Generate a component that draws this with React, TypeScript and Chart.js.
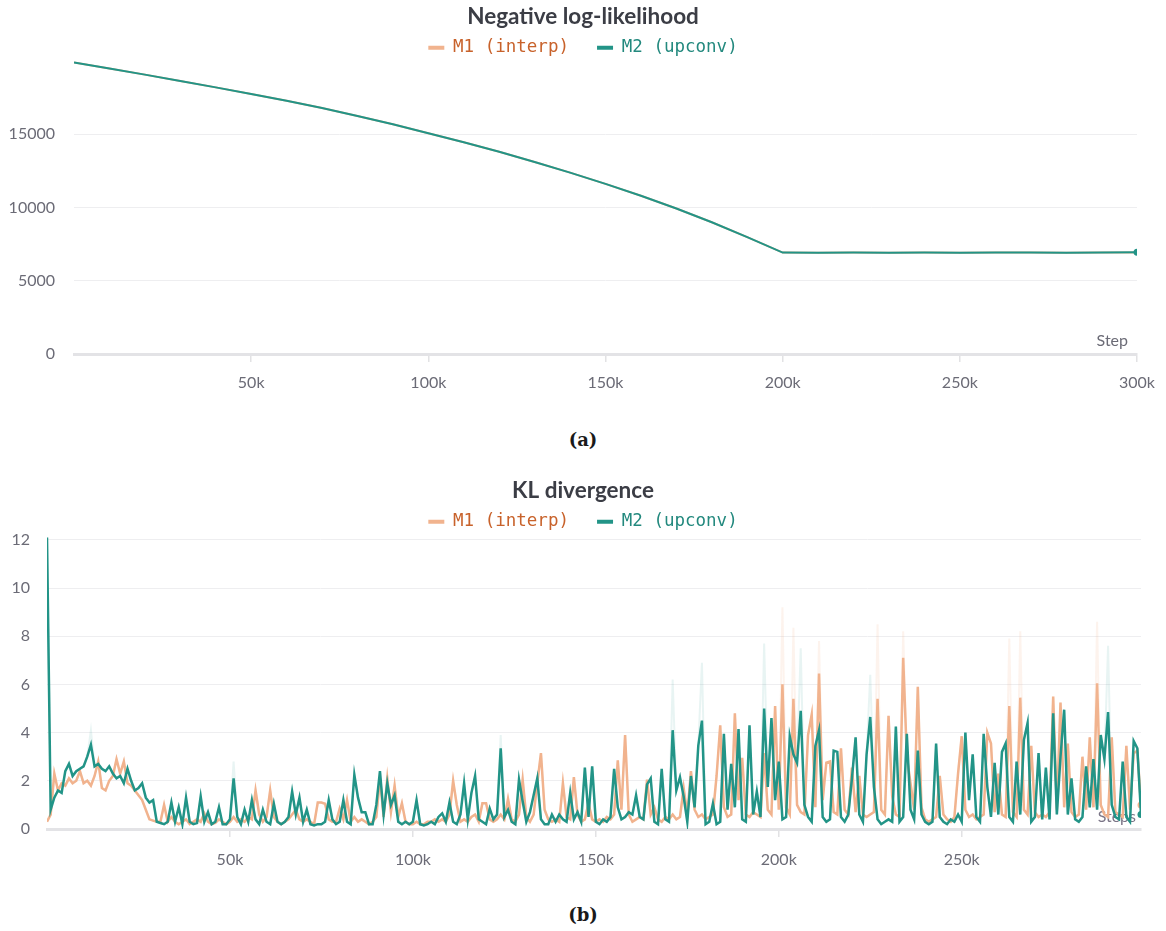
import React, { useEffect, useRef } from 'react';
import { Chart, registerables } from 'chart.js';

Chart.register(...registerables);

const GREEN = '#229487';
const ORANGE = '#f1b38e';
const GREEN_FAINT = 'rgba(34, 148, 135, 0.10)';
const ORANGE_FAINT = 'rgba(241, 179, 142, 0.16)';
const GREEN_TEXT = '#23897e';
const ORANGE_TEXT = '#c8622b';
const TICK = '#6b6b76';
const TITLE = '#3b3d45';

// ---------- Negative log-likelihood ----------
const nllSteps = [
  0, 10000, 20000, 30000, 40000, 50000, 60000, 70000, 80000, 90000,
  100000, 110000, 120000, 130000, 140000, 150000, 160000, 170000, 180000, 190000,
  200000, 210000, 220000, 230000, 240000, 250000, 260000, 270000, 280000, 290000, 300000,
];
const nllM2 = [
  19900, 19490, 19070, 18640, 18200, 17750, 17290, 16790, 16250, 15680,
  15070, 14450, 13800, 13110, 12380, 11610, 10800, 9930, 8990, 7980,
  6920, 6915, 6930, 6905, 6925, 6910, 6920, 6935, 6910, 6925, 6940,
];
const nllM1 = [
  19900, 19490, 19070, 18640, 18200, 17750, 17290, 16790, 16250, 15680,
  15070, 14450, 13800, 13110, 12380, 11610, 10800, 9930, 8990, 7980,
  6925, 6910, 6925, 6910, 6920, 6915, 6925, 6930, 6915, 6920, 6935,
];
const nllYTicks = [0, 5000, 10000, 15000];
const nllXTicks = [50000, 100000, 150000, 200000, 250000, 300000];

// ---------- KL divergence (smoothed, one value per 1k steps, 0 .. 299k) ----------
const klSteps = Array.from({ length: 300 }, (_, i) => i * 1000);
const klM2 = [
  12.1, 0.8, 1.3, 1.6, 1.5, 2.4, 2.7, 2.2, 2.4, 2.5,
  2.6, 3.0, 3.5, 2.6, 2.7, 2.5, 2.4, 2.6, 2.3, 2.1,
  2.2, 1.9, 2.5, 2.0, 1.6, 1.7, 1.9, 1.3, 1.1, 1.2,
  0.3, 0.25, 0.2, 0.3, 1.1, 0.3, 0.9, 0.2, 1.3, 0.3,
  0.2, 0.25, 1.35, 0.3, 0.7, 0.2, 0.3, 0.9, 0.2, 0.2,
  0.4, 2.1, 0.5, 0.2, 0.8, 0.3, 1.2, 0.4, 0.2, 0.8,
  0.3, 0.2, 1.05, 0.3, 0.2, 0.3, 0.5, 1.55, 0.6, 1.3,
  0.3, 0.8, 0.2, 0.15, 0.2, 0.2, 0.3, 1.2, 0.4, 0.2,
  0.3, 1.2, 0.3, 0.2, 2.25, 1.3, 0.7, 0.7, 0.2, 0.2,
  1.0, 2.4, 0.6, 1.9, 1.0, 1.4, 0.3, 0.2, 0.3, 0.2,
  0.3, 1.2, 0.2, 0.15, 0.2, 0.3, 0.2, 0.5, 0.65, 0.3,
  1.1, 0.3, 0.2, 0.6, 1.9, 0.4, 1.5, 2.2, 0.4, 0.3,
  0.2, 0.85, 0.4, 0.6, 3.35, 0.5, 0.8, 0.3, 0.2, 2.05,
  1.15, 0.3, 0.7, 1.4, 2.1, 0.4, 0.2, 0.2, 0.6, 0.3,
  0.6, 0.4, 0.3, 1.5, 0.4, 0.7, 0.3, 2.55, 0.5, 2.6,
  0.3, 0.2, 0.4, 0.3, 0.5, 2.5, 0.9, 0.4, 0.5, 0.7,
  0.6, 1.4, 0.5, 0.4, 1.85, 2.1, 0.3, 0.2, 2.5, 0.4,
  0.3, 4.1, 1.6, 2.15, 1.35, 0.3, 2.2, 0.9, 3.45, 4.5,
  0.2, 0.3, 1.05, 0.2, 0.3, 3.95, 0.8, 2.7, 0.9, 4.15,
  0.4, 0.3, 4.3, 0.6, 1.55, 0.5, 5.0, 1.75, 4.6, 1.2,
  2.8, 0.4, 0.5, 3.85, 3.1, 2.75, 4.9, 1.0, 0.5, 0.3,
  3.45, 4.1, 0.5, 0.3, 0.4, 3.25, 3.2, 0.5, 0.3, 0.6,
  2.1, 3.8, 0.6, 0.3, 3.1, 4.65, 1.75, 0.4, 0.2, 0.3,
  0.4, 0.3, 4.25, 0.3, 0.5, 3.95, 0.8, 0.4, 3.25, 0.6,
  0.3, 0.2, 0.3, 3.55, 0.5, 0.3, 0.2, 0.4, 0.3, 0.6,
  0.3, 4.0, 1.2, 3.1, 0.5, 0.3, 3.95, 1.75, 0.5, 2.75,
  0.6, 3.2, 3.55, 0.5, 0.3, 2.8, 0.6, 3.7, 4.4, 0.3,
  0.5, 3.15, 0.4, 2.55, 0.4, 4.8, 0.6, 3.0, 4.95, 0.6,
  2.1, 0.4, 0.3, 0.5, 2.6, 0.9, 2.9, 0.8, 3.9, 2.9,
  4.85, 1.0, 0.5, 0.4, 2.8, 0.5, 0.3, 3.65, 3.35, 0.6,
];
const klM1 = [
  0.3, 0.6, 2.3, 1.6, 1.9, 1.8, 2.1, 1.9, 2.0, 2.4,
  1.9, 2.0, 1.8, 2.2, 2.8, 1.7, 1.6, 2.0, 2.2, 2.9,
  2.3, 2.8, 1.9, 1.8, 1.6, 1.4, 1.2, 0.8, 0.4, 0.35,
  0.3, 0.3, 1.0, 0.3, 0.5, 0.3, 0.2, 0.3, 0.4, 0.2,
  0.3, 0.4, 0.3, 0.65, 0.3, 0.2, 0.25, 0.4, 0.3, 0.2,
  0.3, 0.5, 0.3, 0.4, 0.3, 0.5, 0.4, 1.6, 0.6, 0.3,
  0.5, 1.6, 0.5, 0.3, 0.2, 0.3, 0.4, 0.6, 0.8, 0.4,
  0.3, 0.4, 0.3, 0.2, 1.1, 1.1, 1.05, 0.4, 0.3, 0.3,
  0.85, 0.4, 1.2, 0.3, 0.5, 0.3, 0.4, 0.3, 0.2, 0.3,
  0.5, 2.1, 0.5, 2.1, 0.7, 1.8, 0.5, 1.07, 0.3, 0.2,
  0.2, 0.3, 0.2, 0.2, 0.3, 0.3, 0.4, 0.3, 0.4, 0.3,
  0.6, 2.0, 1.0, 0.3, 0.4, 0.3, 0.5, 0.6, 0.3, 1.07,
  1.07, 0.4, 0.3, 0.4, 0.6, 0.4, 1.25, 0.4, 0.3, 0.6,
  2.05, 0.5, 0.3, 0.6, 1.9, 3.15, 0.8, 0.4, 0.3, 0.4,
  0.3, 1.9, 0.5, 0.4, 2.15, 0.6, 0.3, 0.4, 1.07, 0.4,
  0.3, 0.4, 0.3, 0.5, 0.4, 0.6, 2.85, 0.8, 3.9, 0.6,
  0.3, 0.4, 0.5, 0.4, 2.05, 0.6, 0.9, 0.4, 0.3, 0.5,
  0.4, 0.6, 0.4, 0.5, 1.7, 0.6, 2.4, 0.8, 0.5, 0.6,
  0.4, 0.5, 0.6, 2.2, 4.3, 0.9, 0.5, 0.6, 4.8, 1.2,
  2.95, 0.6, 0.5, 0.7, 0.6, 0.5, 3.15, 0.8, 0.6, 5.1,
  0.8, 6.0, 0.9, 0.6, 5.4, 1.0, 0.7, 0.6, 3.9, 4.75,
  0.9, 6.45, 1.2, 2.75, 2.8, 0.7, 0.6, 3.35, 0.8, 0.6,
  2.55, 0.7, 2.2, 0.6, 0.5, 0.6, 0.7, 5.4, 0.8, 0.6,
  4.7, 1.35, 0.6, 0.5, 7.1, 3.0, 1.9, 0.8, 5.9, 0.9,
  0.4, 0.3, 0.4, 0.5, 2.2, 0.6, 0.4, 0.3, 0.5, 2.3,
  3.85, 0.8, 0.5, 0.6, 0.4, 0.5, 0.6, 4.0, 3.55, 0.7,
  2.3, 0.6, 0.5, 5.1, 0.7, 0.5, 5.45, 0.8, 0.6, 3.45,
  0.7, 0.5, 0.6, 0.5, 0.7, 5.5, 0.8, 5.25, 0.9, 3.55,
  0.7, 0.5, 0.6, 3.0, 0.8, 3.8, 0.9, 6.05, 1.0, 0.6,
  0.5, 3.8, 0.7, 0.6, 0.5, 3.45, 0.8, 3.15, 3.25, 1.0,
];
// Raw (unsmoothed) peaks, drawn as faint shadows behind the smoothed lines.
const klM2RawPeakSteps = [12000, 51000, 124000, 171000, 179000, 196000, 206000, 225000, 290000];
const klM2RawPeakValues = [4.1, 2.8, 3.9, 6.2, 6.9, 7.7, 7.5, 6.4, 7.6];
const klM1RawPeakSteps = [201000, 204000, 211000, 227000, 234000, 263000, 266000, 287000];
const klM1RawPeakValues = [9.2, 8.35, 7.8, 8.5, 8.2, 7.9, 8.2, 8.6];

const klYTicks = [0, 2, 4, 6, 8, 10, 12];
const klXTicks = [50000, 100000, 150000, 200000, 250000];

const seriesNames = ['M1 (interp)', 'M2 (upconv)'];

// ---------- helpers ----------
const tickFont = { family: 'Lato', size: 16 };

function legendLabels() {
  return [
    { text: seriesNames[0] + '  ', fillStyle: ORANGE, strokeStyle: ORANGE, lineWidth: 0, fontColor: ORANGE_TEXT, hidden: false, datasetIndex: 1 },
    { text: seriesNames[1], fillStyle: GREEN, strokeStyle: GREEN, lineWidth: 0, fontColor: GREEN_TEXT, hidden: false, datasetIndex: 0 },
  ];
}

const legendTrim = {
  id: 'legendTrim',
  beforeLayout(chart: any) {
    const lg = chart.legend;
    if (lg && !lg.__trim) {
      const orig = lg.fit.bind(lg);
      lg.fit = () => {
        orig();
        lg.height = Math.max(0, lg.height - 5.5);
      };
      lg.__trim = true;
    }
  },
};

function axisLabel(text: string, dx: number, dy: number, color: string) {
  return {
    id: 'axisLabel',
    beforeDatasetsDraw(chart: any) {
      const { ctx, chartArea } = chart;
      ctx.save();
      ctx.font = '16px Lato';
      ctx.fillStyle = color;
      ctx.textAlign = 'right';
      ctx.textBaseline = 'middle';
      ctx.fillText(text, chartArea.right - dx, chartArea.bottom - dy);
      ctx.restore();
    },
  };
}

function endRadius(len: number, r: number) {
  return (ctx: any) => (ctx.dataIndex === len - 1 ? r : 0);
}

function withPeaks(base: number[], steps: number[], values: number[]) {
  return klSteps.map((s, i) => {
    const j = steps.indexOf(s);
    return { x: s, y: j >= 0 ? values[j] : base[i] };
  });
}

function baseOptions(title: string, opts: any) {
  return {
    responsive: false,
    animation: false,
    layout: { padding: 0 },
    plugins: {
      title: {
        display: true,
        text: title,
        color: TITLE,
        font: { family: 'Lato', size: 22.5, weight: 'bold' },
        padding: { top: 3, bottom: 2 },
      },
      legend: {
        display: true,
        position: 'top',
        labels: {
          boxWidth: 16,
          boxHeight: 4,
          padding: 7,
          font: { family: 'DejaVu Sans Mono', size: 17.5 },
          generateLabels: legendLabels,
        },
      },
      tooltip: { enabled: false },
    },
    scales: {
      x: {
        type: 'linear',
        min: 0,
        max: opts.xMax,
        afterBuildTicks: (s: any) => {
          s.ticks = opts.xTicks.map((v: number) => ({ value: v }));
        },
        afterFit: (s: any) => {
          s.height = opts.xHeight;
        },
        ticks: {
          color: TICK,
          font: tickFont,
          padding: opts.xPad,
          maxRotation: 0,
          autoSkip: false,
          callback: (v: number) => `${v / 1000}k`,
        },
        grid: { drawOnChartArea: false, drawTicks: true, tickLength: 8, color: '#e2e2e4', lineWidth: 1.5 },
        border: { display: true, color: '#e3e3e6', width: 3 },
      },
      y: {
        position: 'left',
        min: 0,
        max: opts.yMax,
        afterBuildTicks: (s: any) => {
          s.ticks = opts.yTicks.map((v: number) => ({ value: v }));
        },
        afterFit: (s: any) => {
          s.width = opts.yWidth;
        },
        ticks: { color: TICK, font: tickFont, padding: opts.yPad, callback: (v: number) => String(v) },
        grid: { color: '#eeeef0', lineWidth: 1, drawTicks: false },
        border: { display: false },
      },
      yR: {
        type: 'linear',
        position: 'right',
        display: true,
        afterFit: (s: any) => {
          s.width = opts.rightWidth;
        },
        ticks: { display: false },
        grid: { display: false, drawTicks: false },
        border: { display: false },
      },
    },
  };
}

function nllConfig(): any {
  const m2 = nllSteps.map((s, i) => ({ x: s, y: nllM2[i] }));
  const m1 = nllSteps.map((s, i) => ({ x: s, y: nllM1[i] }));
  return {
    type: 'line',
    data: {
      datasets: [
        {
          label: seriesNames[1], data: m2, borderColor: GREEN, backgroundColor: GREEN, borderWidth: 2,
          pointRadius: endRadius(m2.length, 3.5), pointBorderWidth: 0, pointBackgroundColor: GREEN, tension: 0,
        },
        {
          label: seriesNames[0], data: m1, borderColor: ORANGE, backgroundColor: ORANGE, borderWidth: 2,
          pointRadius: 0, tension: 0,
        },
      ],
    },
    options: baseOptions('Negative log-likelihood', {
      xMax: 300000, xTicks: nllXTicks, xHeight: 46, xPad: 11,
      yMax: 20000, yTicks: nllYTicks, yWidth: 74, yPad: 19, rightWidth: 24,
    }),
    plugins: [legendTrim, axisLabel('Step', 9, 13, TICK)],
  };
}

function klConfig(): any {
  const m2 = klSteps.map((s, i) => ({ x: s, y: klM2[i] }));
  const m1 = klSteps.map((s, i) => ({ x: s, y: klM1[i] }));
  const m2raw = withPeaks(klM2, klM2RawPeakSteps, klM2RawPeakValues);
  const m1raw = withPeaks(klM1, klM1RawPeakSteps, klM1RawPeakValues);
  return {
    type: 'line',
    data: {
      datasets: [
        {
          label: seriesNames[1], data: m2, borderColor: GREEN, backgroundColor: GREEN, borderWidth: 2.5,
          pointRadius: endRadius(m2.length, 3.5), pointBorderWidth: 0, pointBackgroundColor: GREEN, tension: 0,
        },
        {
          label: seriesNames[0], data: m1, borderColor: ORANGE, backgroundColor: ORANGE, borderWidth: 2.5,
          pointRadius: endRadius(m1.length, 3.5), pointBorderWidth: 0, pointBackgroundColor: ORANGE, tension: 0,
        },
        {
          label: seriesNames[1] + ' raw', data: m2raw, borderColor: GREEN_FAINT, borderWidth: 2,
          pointRadius: 0, tension: 0,
        },
        {
          label: seriesNames[0] + ' raw', data: m1raw, borderColor: ORANGE_FAINT, borderWidth: 2,
          pointRadius: 0, tension: 0,
        },
      ],
    },
    options: baseOptions('KL divergence', {
      xMax: 299000, xTicks: klXTicks, xHeight: 45, xPad: 13,
      yMax: 12.2, yTicks: klYTicks, yWidth: 47, yPad: 17, rightWidth: 25,
    }),
    plugins: [legendTrim, axisLabel('Steps', 5, 12, '#7a7486')],
  };
}

function ChartBox({ make, top, height }: { make: () => any; top: number; height: number }) {
  const ref = useRef<HTMLCanvasElement | null>(null);
  useEffect(() => {
    if (!ref.current) return;
    const chart = new Chart(ref.current, make());
    return () => chart.destroy();
  }, [make]);
  return (
    <div style={{ position: 'absolute', left: 0, top, width: 1166, height }}>
      <canvas ref={ref} width={1166} height={height} style={{ display: 'block', width: 1166, height }} />
    </div>
  );
}

const captionStyle: React.CSSProperties = {
  position: 'absolute',
  left: 0,
  width: 1166,
  height: 24,
  lineHeight: '24px',
  textAlign: 'center',
  fontFamily: '"DejaVu Serif", serif',
  fontWeight: 'bold',
  fontSize: 18,
  color: '#1a1a1a',
};

export default function App() {
  return (
    <div style={{ position: 'absolute', left: 0, top: 0, width: 1166, height: 931, background: '#ffffff' }}>
      <ChartBox make={nllConfig} top={0} height={400} />
      <div style={{ ...captionStyle, top: 428 }}>(a)</div>
      <ChartBox make={klConfig} top={474} height={400} />
      <div style={{ ...captionStyle, top: 903 }}>(b)</div>
    </div>
  );
}
